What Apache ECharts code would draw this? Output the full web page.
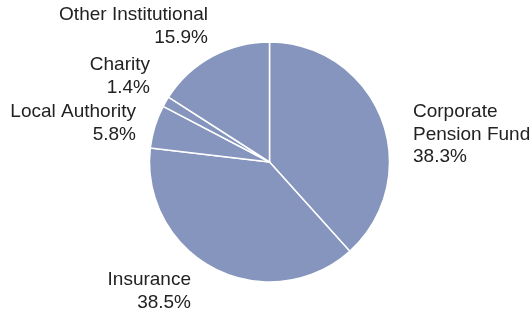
<!DOCTYPE html>
<html>
<head>
<meta charset="utf-8">
<script src="https://cdn.jsdelivr.net/npm/echarts@6/dist/echarts.min.js"></script>
<style>
  html, body { margin: 0; padding: 0; background: #fff; }
  #chart { width: 530px; height: 314px; }
</style>
</head>
<body>
<div id="chart"></div>
<script>
// investor types, clockwise from 12 o'clock
const categories = ["Corporate\nPension Fund", "Insurance", "Local Authority", "Charity", "Other Institutional"];
const shares = [38.3, 38.5, 5.8, 1.4, 15.9];

// where each label block sits (anchor + alignment)
const labelSpots = [
  { x: 413, y: 101, align: "left" },
  { x: 191, y: 269, align: "right" },
  { x: 136, y: 101, align: "right" },
  { x: 150, y: 54, align: "right" },
  { x: 208, y: 4, align: "right" }
];

const chart = echarts.init(document.getElementById("chart"));

chart.setOption({
  animation: false,
  series: [
    {
      type: "pie",
      center: [269.5, 162],
      radius: 120,
      startAngle: 90,
      clockwise: true,
      silent: true,
      data: categories.map((name, i) => ({ name: name, value: shares[i] })),
      itemStyle: {
        color: "#8595BD",
        borderColor: "#fff",
        borderWidth: 1.5
      },
      label: {
        show: true,
        position: "outside",
        formatter: p => p.name + "\n" + p.value.toFixed(1) + "%",
        color: "#222",
        fontFamily: "Arial, 'Liberation Sans', sans-serif",
        fontSize: 19,
        lineHeight: 22.5,
        overflow: "none",
        width: 200
      },
      labelLine: { show: false },
      labelLayout: p => {
        const s = labelSpots[p.dataIndex];
        return { x: s.x, y: s.y, align: s.align, verticalAlign: "top", width: 200 };
      }
    }
  ]
});
</script>
</body>
</html>
